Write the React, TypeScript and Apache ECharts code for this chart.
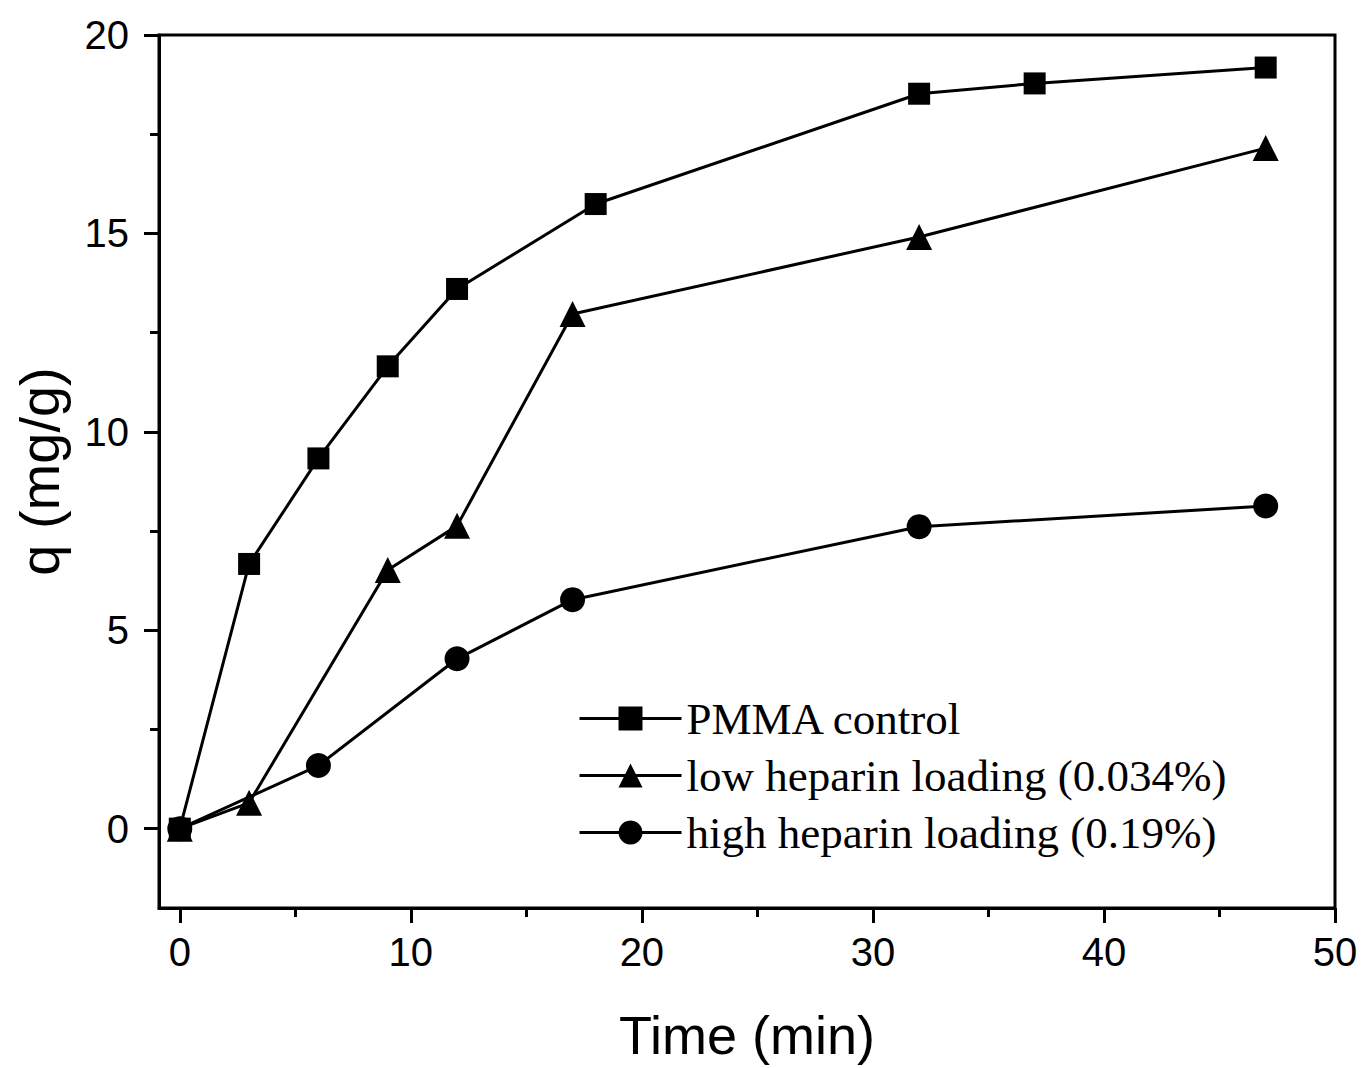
import React, { useEffect, useRef } from "react";
import * as echarts from "echarts";

const pmmaTime = [0, 3, 6, 9, 12, 18, 32, 37, 47];
const pmmaQ = [0, 6.67, 9.33, 11.65, 13.6, 15.74, 18.52, 18.78, 19.18];
const lowTime = [0, 3, 9, 12, 17, 32, 47];
const lowQ = [0, 0.65, 6.52, 7.63, 12.97, 14.91, 17.15];
const highTime = [0, 6, 12, 17, 32, 47];
const highQ = [0, 1.59, 4.28, 5.77, 7.61, 8.13];
const xMajor = [0, 10, 20, 30, 40, 50];
const xMinor = [5, 15, 25, 35, 45];
const yMajor = [0, 5, 10, 15, 20];
const yMinor = [2.5, 7.5, 12.5, 17.5];
const seriesNames = [
  "PMMA control",
  "low heparin loading (0.034%)",
  "high heparin loading (0.19%)",
];

export default function App() {
  const ref = useRef<HTMLDivElement>(null);
  useEffect(() => {
    if (!ref.current) return;
    const chart = echarts.init(ref.current, null, { renderer: "svg" });
    const sans = "Liberation Sans";
    const axisLine = { show: true, onZero: false, lineStyle: { color: "#000", width: 3 } };
    const pair = (xs: number[], ys: number[]) => xs.map((x, i) => [x, ys[i]]);
    const mkSeries = (name: string, data: number[][], symbol: string, size: number) => ({
      name,
      type: "line",
      data,
      symbol,
      symbolSize: size,
      showSymbol: true,
      lineStyle: { color: "#000", width: 3 },
      itemStyle: { color: "#000" },
      z: 3,
    });
    chart.setOption({
      animation: false,
      backgroundColor: "#fff",
      grid: {
        left: 159,
        top: 35,
        right: 28,
        bottom: 160,
        show: true,
        borderColor: "#000",
        borderWidth: 3,
      },
      legend: {
        orient: "vertical",
        left: 573,
        top: 691,
        itemWidth: 102,
        itemHeight: 30,
        itemGap: 12,
        lineStyle: { width: 3, color: "#000" },
        textStyle: {
          fontFamily: "Liberation Serif",
          fontSize: 45,
          lineHeight: 44,
          color: "#000",
          padding: [0, 0, 0, 0],
        },
        data: seriesNames,
      },
      xAxis: [
        {
          type: "value",
          min: -0.9,
          max: 50,
          position: "bottom",
          axisLine,
          splitLine: { show: false },
          axisTick: { show: true, inside: false, length: 15, lineStyle: { width: 3, color: "#000" }, customValues: xMajor },
          axisLabel: { fontFamily: sans, fontSize: 40, color: "#000", margin: 24, customValues: xMajor },
          name: "Time (min)",
          nameLocation: "middle",
          nameGap: 100,
          nameTextStyle: { fontFamily: sans, fontSize: 54, color: "#000" },
        },
        {
          type: "value",
          min: -0.9,
          max: 50,
          position: "bottom",
          axisLine: { show: false, onZero: false },
          splitLine: { show: false },
          axisTick: { show: true, inside: false, length: 9, lineStyle: { width: 3, color: "#000" }, customValues: xMinor },
          axisLabel: { show: false },
        },
      ],
      yAxis: [
        {
          type: "value",
          min: -2,
          max: 20,
          position: "left",
          axisLine,
          splitLine: { show: false },
          axisTick: { show: true, inside: false, length: 15, lineStyle: { width: 3, color: "#000" }, customValues: yMajor },
          axisLabel: { fontFamily: sans, fontSize: 40, color: "#000", margin: 30, customValues: yMajor },
          name: "q (mg/g)",
          nameLocation: "middle",
          nameGap: 92,
          nameRotate: 90,
          nameTextStyle: { fontFamily: sans, fontSize: 56, color: "#000" },
        },
        {
          type: "value",
          min: -2,
          max: 20,
          position: "left",
          axisLine: { show: false, onZero: false },
          splitLine: { show: false },
          axisTick: { show: true, inside: false, length: 9, lineStyle: { width: 3, color: "#000" }, customValues: yMinor },
          axisLabel: { show: false },
        },
      ],
      series: [
        mkSeries(seriesNames[0], pair(pmmaTime, pmmaQ), "rect", 22),
        mkSeries(seriesNames[1], pair(lowTime, lowQ), "triangle", 26),
        mkSeries(seriesNames[2], pair(highTime, highQ), "circle", 25),
      ],
    });
    return () => chart.dispose();
  }, []);
  return (
    <div
      ref={ref}
      style={{ position: "fixed", left: 0, top: 0, width: 1363, height: 1068, background: "#fff" }}
    />
  );
}
